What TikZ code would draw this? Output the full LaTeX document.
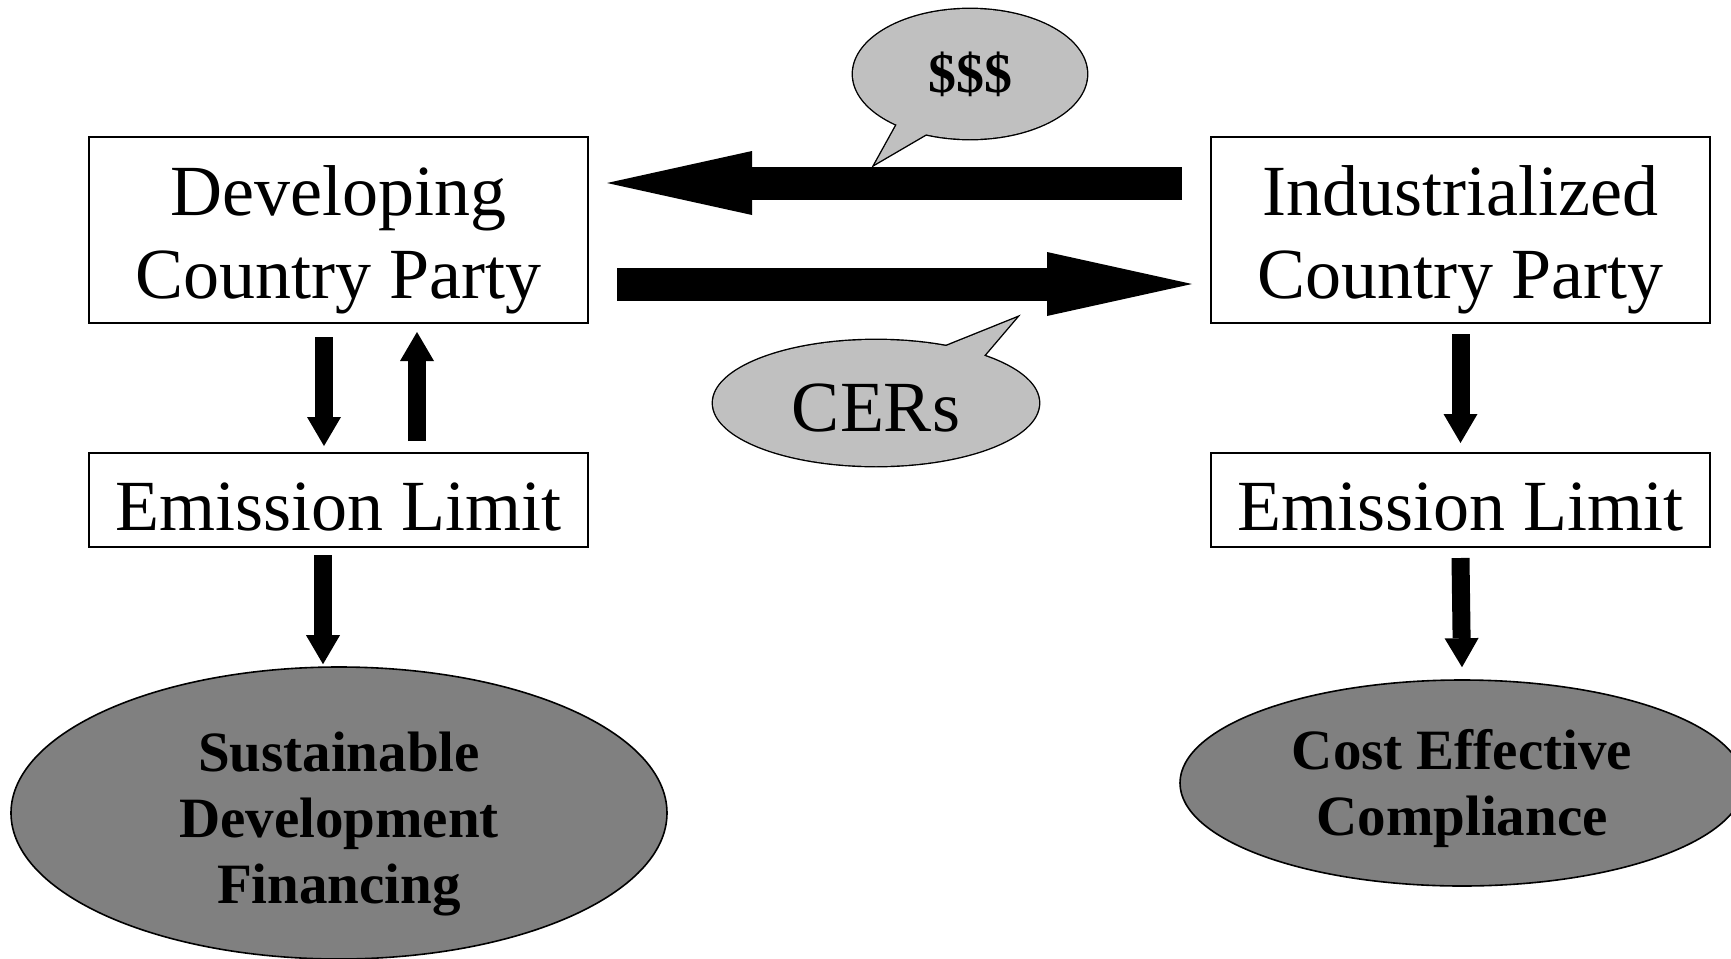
\documentclass[tikz,border=0pt]{standalone}
\usepackage{fontspec}
\setmainfont{Liberation Serif}
\usetikzlibrary{arrows.meta,shapes.geometric,backgrounds}
\definecolor{goalgray}{RGB}{128,128,128}
\definecolor{bubblegray}{RGB}{192,192,192}
\newcommand\pushdown[2]{\rule{0pt}{\dimexpr\fontcharht\font`#1+#2\relax}}
\begin{document}
\begin{tikzpicture}[x=0.5pt,y=-0.5pt,
  party/.style={draw, line width=1pt, minimum width=249.5pt, inner sep=0pt, align=center, font=\fontsize{36}{41.5}\selectfont},
  goal/.style={ellipse, draw, line width=0.8pt, fill=goalgray, inner sep=0pt, align=center, font=\fontsize{28.5}{33}\selectfont\bfseries},
  bubble/.style={inner sep=0pt},
  bubbleline/.style={line width=1.4pt, line join=miter},
  bigarrow/.style={line width=16.5pt, -{Triangle[length=72.5pt,width=32pt,line width=0pt]}},
  smallarrow/.style={line width=9pt, -{Triangle[length=14.5pt,width=17pt,line width=0pt]}},
]
\useasboundingbox (0,0) rectangle (1731,959);

\node[party, minimum height=93pt] (dev) at (338.5,230) {\pushdown{l}{11pt}Developing\\Country Party};
\node[party, minimum height=93pt] (ind) at (1460.5,230) {\pushdown{l}{11pt}Industrialized\\Country Party};
\node[party, minimum height=47pt] (em1) at (338.5,500) {\pushdown{l}{7.7pt}Emission Limit};
\node[party, minimum height=47pt] (em2) at (1460.5,500) {\pushdown{l}{7.7pt}Emission Limit};
\node[goal, minimum width=328pt, minimum height=146pt] (sdf) at (339,813) {\pushdown{l}{12pt}Sustainable\\Development\\Financing};
\node[goal, minimum width=282pt, minimum height=103pt] (cec) at (1462,783) {\pushdown{l}{6.6pt}Cost Effective\\Compliance};

\node[bubble, font=\fontsize{28}{33}\selectfont\bfseries] (cash) at (970,74) {\$\$\$};
\node[bubble, font=\fontsize{36}{41.5}\selectfont] (cers) at (876,403) {\pushdown{C}{5.5pt}CERs};

\begin{scope}[on background layer]
  \draw[bubbleline] (cash.center) ellipse [x radius=58.5pt, y radius=32.5pt];
  \draw[bubbleline] ([shift={(-69,43)}]cash.center) -- ([shift={(-95,90)}]cash.center) -- ([shift={(-35,55)}]cash.center);
  \fill[bubblegray] (cash.center) ellipse [x radius=58.5pt, y radius=32.5pt];
  \fill[bubblegray] ([shift={(-69,43)}]cash.center) -- ([shift={(-95,90)}]cash.center) -- ([shift={(-35,55)}]cash.center) -- cycle;

  \draw[bubbleline] (876,403) ellipse [x radius=81.5pt, y radius=31.5pt];
  \draw[bubbleline] ([shift={(53,-50)}]cers.center) -- ([shift={(140,-85)}]cers.center) -- ([shift={(100,-38)}]cers.center);
  \fill[bubblegray] (876,403) ellipse [x radius=81.5pt, y radius=31.5pt];
  \fill[bubblegray] ([shift={(53,-50)}]cers.center) -- ([shift={(140,-85)}]cers.center) -- ([shift={(100,-38)}]cers.center) -- cycle;
\end{scope}

\draw[bigarrow] ([xshift=-14pt,yshift=23.5pt]ind.west) -- ([xshift=9pt,yshift=23.5pt]dev.east);
\draw[bigarrow] ([xshift=14pt,yshift=-27pt]dev.east) -- ([xshift=-9pt,yshift=-27pt]ind.west);

\draw[smallarrow] ([xshift=-7.25pt,yshift=-6.5pt]dev.south) -- ([xshift=-7.25pt,yshift=3pt]em1.north);
\draw[smallarrow] ([xshift=39.25pt,yshift=5.5pt]em1.north) -- ([xshift=39.25pt,yshift=-4pt]dev.south);
\draw[smallarrow] ([xshift=-7.75pt,yshift=-3.5pt]em1.south) -- ([xshift=-8pt,yshift=1pt]sdf.north);
\draw[smallarrow] ([yshift=-5pt]ind.south) -- ([yshift=4.5pt]em2.north);
\draw[smallarrow] ([yshift=-5pt]em2.south) -- ([yshift=6pt]cec.north);
\end{tikzpicture}
\end{document}
